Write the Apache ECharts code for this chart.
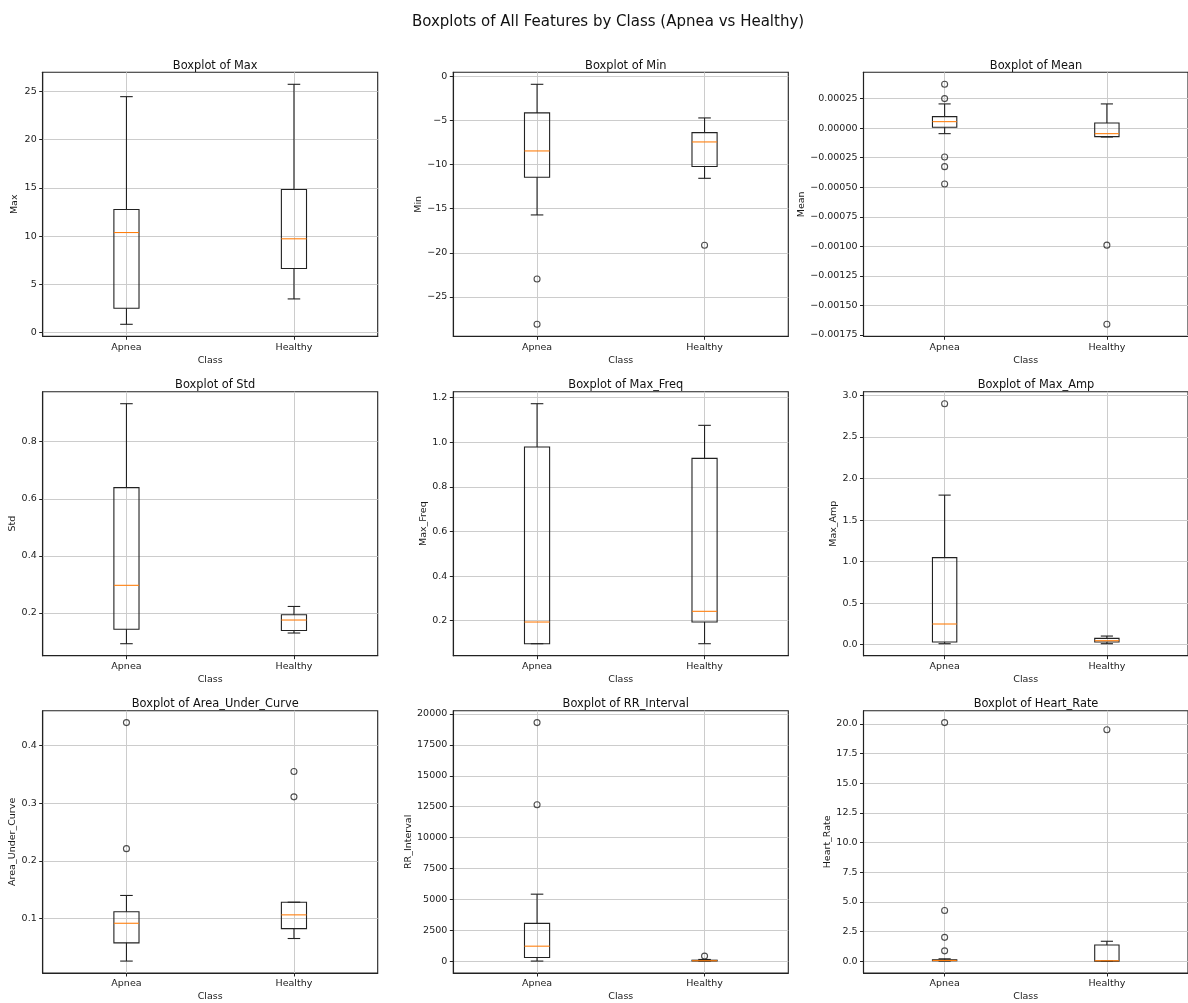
<!DOCTYPE html>
<html>
<head>
<meta charset="utf-8">
<title>Boxplots of All Features by Class</title>
<script src="https://cdn.jsdelivr.net/npm/echarts@6/dist/echarts.min.js"></script>
<style>
  html, body { margin: 0; padding: 0; background: #fff; }
  #chart { width: 1188px; height: 1003px; }
</style>
</head>
<body>
<div id="chart"></div>
<script>
const classes = ['Apnea', 'Healthy'];

// each box: [lower whisker, Q1, median, Q3, upper whisker]
const maxBoxes = [[0.86, 2.52, 10.37, 12.76, 24.45], [3.49, 6.64, 9.72, 14.83, 25.73]];
const maxOutliers = [[], []];
const maxTicks = [0, 5, 10, 15, 20, 25];

const minBoxes = [[-15.71, -11.44, -8.46, -4.15, -0.91], [-11.56, -10.23, -7.44, -6.38, -4.72]];
const minOutliers = [[-22.96, -28.1], [-19.15]];
const minTicks = [-25, -20, -15, -10, -5, 0];

const meanBoxes = [[-0.0000466, 0.000007, 0.000055, 0.0000975, 0.000205], [-0.000075, -0.000072, -0.0000466, 0.0000438, 0.000205]];
const meanOutliers = [[0.000371, 0.00025, -0.000244, -0.000326, -0.000473], [-0.00099, -0.00166]];
const meanTicks = [-0.00175, -0.0015, -0.00125, -0.001, -0.00075, -0.0005, -0.00025, 0, 0.00025];

const stdBoxes = [[0.0926, 0.143, 0.297, 0.639, 0.933], [0.130, 0.139, 0.1755, 0.194, 0.223]];
const stdOutliers = [[], []];
const stdTicks = [0.2, 0.4, 0.6, 0.8];

const maxFreqBoxes = [[0.0968, 0.0968, 0.194, 0.979, 1.173], [0.0968, 0.194, 0.242, 0.928, 1.076]];
const maxFreqOutliers = [[], []];
const maxFreqTicks = [0.2, 0.4, 0.6, 0.8, 1.0, 1.2];

const maxAmpBoxes = [[0.012, 0.032, 0.249, 1.048, 1.80], [0.012, 0.032, 0.048, 0.076, 0.104]];
const maxAmpOutliers = [[2.90], []];
const maxAmpTicks = [0, 0.5, 1, 1.5, 2, 2.5, 3];

const aucBoxes = [[0.0257, 0.0574, 0.0914, 0.1115, 0.1397], [0.0649, 0.0821, 0.106, 0.128, 0.128]];
const aucOutliers = [[0.440, 0.221], [0.355, 0.311]];
const aucTicks = [0.1, 0.2, 0.3, 0.4];

const rrBoxes = [[0, 295, 1206, 3056, 5416], [0, 10, 30, 70, 130]];
const rrOutliers = [[19303, 12654], [402]];
const rrTicks = [0, 2500, 5000, 7500, 10000, 12500, 15000, 17500, 20000];

const hrBoxes = [[0, 0.03, 0.05, 0.11, 0.19], [0, 0, 0.03, 1.36, 1.67]];
const hrOutliers = [[20.1, 4.26, 2.0, 0.86], [19.5]];
const hrTicks = [0, 2.5, 5, 7.5, 10, 12.5, 15, 17.5, 20];

const features = [
    { name: 'Max', boxes: maxBoxes, outliers: maxOutliers, ticks: maxTicks, decimals: 0, nameGap: 23 },
    { name: 'Min', boxes: minBoxes, outliers: minOutliers, ticks: minTicks, decimals: 0, nameGap: 30 },
    { name: 'Mean', boxes: meanBoxes, outliers: meanOutliers, ticks: meanTicks, decimals: 5, nameGap: 57 },
    { name: 'Std', boxes: stdBoxes, outliers: stdOutliers, ticks: stdTicks, decimals: 1, nameGap: 24 },
    { name: 'Max_Freq', boxes: maxFreqBoxes, outliers: maxFreqOutliers, ticks: maxFreqTicks, decimals: 1, nameGap: 24 },
    { name: 'Max_Amp', boxes: maxAmpBoxes, outliers: maxAmpOutliers, ticks: maxAmpTicks, decimals: 1, nameGap: 25 },
    { name: 'Area_Under_Curve', boxes: aucBoxes, outliers: aucOutliers, ticks: aucTicks, decimals: 1, nameGap: 25 },
    { name: 'RR_Interval', boxes: rrBoxes, outliers: rrOutliers, ticks: rrTicks, decimals: 0, nameGap: 40 },
    { name: 'Heart_Rate', boxes: hrBoxes, outliers: hrOutliers, ticks: hrTicks, decimals: 1, nameGap: 30 }
];

// layout of the 3x3 panels
const colLefts = [42.7, 453.3, 863.5];
const rowTops = [72.3, 391.7, 710.7];
const panelW = 335;
const panelH = 264;

const fontFamily = 'DejaVu Sans';
const boxColor = '#222';
const medianColor = '#ff7f0e';
const gridColor = '#cccccc';
const textColor = '#1a1a1a';
const lineW = 1.1;

function fmt(v, d) {
    return v.toFixed(d).replace('-', '\u2212');
}

function renderBox(params, api) {
    const x = api.value(0);
    const lo = api.coord([x, api.value(1)]);
    const q1 = api.coord([x, api.value(2)]);
    const med = api.coord([x, api.value(3)]);
    const q3 = api.coord([x, api.value(4)]);
    const hi = api.coord([x, api.value(5)]);
    const boxW = api.size([0.15, 0])[0];
    const capW = boxW / 2;
    const cx = lo[0];
    const line = (x1, y1, x2, y2, c) => ({
        type: 'line',
        shape: { x1: x1, y1: y1, x2: x2, y2: y2 },
        style: { stroke: c, lineWidth: lineW }
    });
    return {
        type: 'group',
        children: [
            line(cx, q1[1], cx, lo[1], boxColor),
            line(cx, q3[1], cx, hi[1], boxColor),
            line(cx - capW / 2, lo[1], cx + capW / 2, lo[1], boxColor),
            line(cx - capW / 2, hi[1], cx + capW / 2, hi[1], boxColor),
            {
                type: 'rect',
                shape: { x: cx - boxW / 2, y: q3[1], width: boxW, height: q1[1] - q3[1] },
                style: { fill: 'none', stroke: boxColor, lineWidth: lineW }
            },
            line(cx - boxW / 2, med[1], cx + boxW / 2, med[1], medianColor)
        ]
    };
}

const titles = [{
    text: 'Boxplots of All Features by Class (Apnea vs Healthy)',
    left: 603,
    top: 10,
    textAlign: 'center',
    textStyle: { fontFamily: fontFamily, fontSize: 15, fontWeight: 'normal', color: '#111' }
}];
const grids = [];
const xAxes = [];
const yAxes = [];
const series = [];

features.forEach(function (f, i) {
    const row = Math.floor(i / 3);
    const col = i % 3;
    const left = colLefts[col];
    const top = rowTops[row];

    // matplotlib style 5% margins around all plotted values
    let all = [];
    f.boxes.forEach(b => { all = all.concat(b); });
    f.outliers.forEach(o => { all = all.concat(o); });
    const lo = Math.min.apply(null, all);
    const hi = Math.max.apply(null, all);
    const pad = (hi - lo) * 0.05;

    titles.push({
        text: 'Boxplot of ' + f.name,
        left: left + panelW / 2,
        top: top - 17,
        textAlign: 'center',
        textStyle: { fontFamily: fontFamily, fontSize: 11.4, fontWeight: 'normal', color: '#111' }
    });

    grids.push({
        left: left, top: top, width: panelW, height: panelH,
        show: true, borderColor: boxColor, borderWidth: lineW, backgroundColor: 'transparent'
    });

    xAxes.push({
        gridIndex: i,
        type: 'value',
        min: 0.5,
        max: 2.5,
        name: 'Class',
        nameLocation: 'middle',
        nameGap: 19,
        nameTextStyle: { fontFamily: fontFamily, fontSize: 9.5, color: textColor },
        axisLine: { show: true, onZero: false, lineStyle: { color: boxColor, width: lineW } },
        axisTick: { show: true, length: 3.5, customValues: [1, 2], lineStyle: { color: boxColor } },
        axisLabel: {
            customValues: [1, 2],
            margin: 6,
            fontFamily: fontFamily, fontSize: 9.5, color: textColor,
            formatter: v => classes[Math.round(v) - 1]
        },
        splitLine: { show: true, lineStyle: { color: gridColor, width: 1 } }
    });

    yAxes.push({
        gridIndex: i,
        type: 'value',
        min: lo - pad,
        max: hi + pad,
        name: f.name,
        nameLocation: 'middle',
        nameRotate: 90,
        nameGap: f.nameGap,
        nameTextStyle: { fontFamily: fontFamily, fontSize: 9.5, color: textColor },
        axisLine: { show: true, onZero: false, lineStyle: { color: boxColor, width: lineW } },
        axisTick: { show: true, length: 3.5, customValues: f.ticks, lineStyle: { color: boxColor } },
        axisLabel: {
            customValues: f.ticks,
            margin: 6,
            fontFamily: fontFamily, fontSize: 9.5, color: textColor,
            formatter: v => fmt(v, f.decimals)
        },
        splitLine: { show: true, lineStyle: { color: gridColor, width: 1 } }
    });

    series.push({
        type: 'custom',
        xAxisIndex: i,
        yAxisIndex: i,
        renderItem: renderBox,
        encode: { x: 0, y: [1, 2, 3, 4, 5] },
        data: f.boxes.map((b, k) => [k + 1].concat(b)),
        silent: true,
        z: 3
    });

    const pts = [];
    f.outliers.forEach((o, k) => o.forEach(v => pts.push([k + 1, v])));
    series.push({
        type: 'scatter',
        xAxisIndex: i,
        yAxisIndex: i,
        symbol: 'circle',
        symbolSize: 6,
        itemStyle: { color: 'rgba(0,0,0,0)', borderColor: boxColor, borderWidth: lineW },
        data: pts,
        silent: true,
        z: 4
    });
});

const chart = echarts.init(document.getElementById('chart'));
chart.setOption({
    backgroundColor: '#fff',
    animation: false,
    title: titles,
    grid: grids,
    xAxis: xAxes,
    yAxis: yAxes,
    series: series
});
window.addEventListener('resize', function () {
    chart.resize();
});
</script>
</body>
</html>
